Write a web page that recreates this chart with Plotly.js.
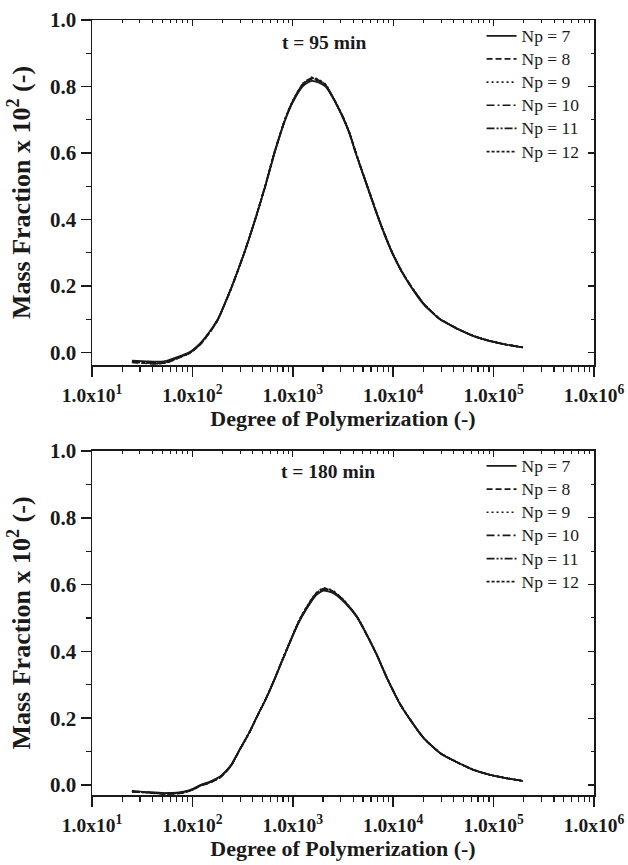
<!DOCTYPE html>
<html><head><meta charset="utf-8">
<script src="https://cdn.plot.ly/plotly-3.0.1.min.js"></script>
<style>html,body{margin:0;padding:0;background:#fff}#chart{width:628px;height:865px}</style>
</head><body><div id="chart"></div>
<script>
const seriesNames = ['Np = 7', 'Np = 8', 'Np = 9', 'Np = 10', 'Np = 11', 'Np = 12'];
const seriesDash = ['solid', '6px,3px', '2px,3px', '8px,3px,2px,3px', '8px,2px,2px,2px,2px,2px', '3px,2px'];

// t = 95 min
const dp95 = [25, 35, 44, 55, 65, 80, 95, 120, 145, 179, 210, 248, 329, 423, 533, 659, 843, 1000, 1254, 1400, 1552, 1800, 2109, 2600, 3213, 3700, 4198, 4800, 5486, 6250, 7163, 8300, 9720, 12000, 14820, 20000, 29040, 36000, 43150, 63400, 92900, 136100, 196000];
const mf95_np7  = [-0.025, -0.027, -0.028, -0.025, -0.018, -0.008, 0.002, 0.028, 0.058, 0.100, 0.147, 0.200, 0.300, 0.400, 0.500, 0.600, 0.700, 0.752, 0.800, 0.811, 0.817, 0.812, 0.800, 0.757, 0.700, 0.655, 0.602, 0.551, 0.500, 0.451, 0.400, 0.350, 0.300, 0.245, 0.200, 0.145, 0.100, 0.084, 0.071, 0.049, 0.034, 0.023, 0.015];
const mf95_np8  = [-0.030, -0.033, -0.034, -0.031, -0.023, -0.012, -0.002, 0.024, 0.055, 0.097, 0.145, 0.198, 0.299, 0.401, 0.502, 0.603, 0.703, 0.756, 0.805, 0.816, 0.822, 0.817, 0.804, 0.759, 0.703, 0.657, 0.605, 0.553, 0.503, 0.453, 0.403, 0.352, 0.302, 0.247, 0.202, 0.147, 0.101, 0.085, 0.072, 0.049, 0.034, 0.023, 0.015];
const mf95_np9  = [-0.028, -0.031, -0.033, -0.030, -0.022, -0.011, -0.001, 0.025, 0.056, 0.098, 0.146, 0.199, 0.300, 0.401, 0.503, 0.604, 0.705, 0.758, 0.808, 0.820, 0.828, 0.821, 0.807, 0.760, 0.704, 0.658, 0.606, 0.554, 0.504, 0.454, 0.404, 0.353, 0.303, 0.248, 0.203, 0.148, 0.101, 0.085, 0.072, 0.050, 0.034, 0.023, 0.015];
const mf95_np10 = [-0.027, -0.030, -0.032, -0.029, -0.021, -0.010, 0.000, 0.026, 0.057, 0.099, 0.146, 0.199, 0.300, 0.400, 0.501, 0.602, 0.703, 0.755, 0.806, 0.818, 0.824, 0.818, 0.805, 0.758, 0.702, 0.656, 0.604, 0.552, 0.502, 0.452, 0.402, 0.351, 0.301, 0.246, 0.201, 0.147, 0.100, 0.084, 0.071, 0.049, 0.034, 0.023, 0.015];
const mf95_np11 = [-0.029, -0.032, -0.034, -0.031, -0.022, -0.011, -0.001, 0.025, 0.056, 0.098, 0.146, 0.199, 0.301, 0.402, 0.503, 0.604, 0.704, 0.757, 0.807, 0.819, 0.826, 0.820, 0.806, 0.759, 0.704, 0.657, 0.606, 0.553, 0.503, 0.453, 0.403, 0.352, 0.302, 0.247, 0.202, 0.148, 0.101, 0.085, 0.072, 0.049, 0.034, 0.023, 0.015];
const mf95_np12 = [-0.028, -0.031, -0.033, -0.030, -0.022, -0.011, -0.001, 0.025, 0.056, 0.098, 0.146, 0.199, 0.300, 0.401, 0.502, 0.603, 0.704, 0.757, 0.807, 0.818, 0.825, 0.819, 0.806, 0.759, 0.703, 0.657, 0.605, 0.553, 0.503, 0.453, 0.403, 0.352, 0.302, 0.247, 0.202, 0.147, 0.101, 0.085, 0.072, 0.049, 0.034, 0.023, 0.015];

// t = 180 min
const dp180 = [25, 35, 52, 70, 82, 100, 120, 150, 190, 240, 300, 370, 440, 540, 644, 780, 944, 1150, 1384, 1700, 2028, 2500, 3213, 4355, 5486, 6905, 8675, 11780, 15990, 20100, 29450, 43150, 63370, 92900, 136100, 196300];
const mf180_np7  = [-0.018, -0.021, -0.024, -0.023, -0.020, -0.012, 0.000, 0.010, 0.026, 0.058, 0.110, 0.158, 0.205, 0.258, 0.309, 0.370, 0.429, 0.487, 0.529, 0.568, 0.582, 0.575, 0.549, 0.502, 0.447, 0.387, 0.319, 0.240, 0.180, 0.140, 0.095, 0.068, 0.045, 0.030, 0.020, 0.012];
const mf180_np8  = [-0.020, -0.023, -0.027, -0.026, -0.023, -0.015, -0.003, 0.007, 0.023, 0.055, 0.108, 0.157, 0.204, 0.258, 0.310, 0.371, 0.431, 0.490, 0.533, 0.572, 0.586, 0.579, 0.552, 0.504, 0.449, 0.388, 0.320, 0.241, 0.181, 0.141, 0.095, 0.068, 0.045, 0.030, 0.020, 0.012];
const mf180_np9  = [-0.019, -0.022, -0.026, -0.025, -0.022, -0.014, -0.002, 0.008, 0.024, 0.056, 0.109, 0.158, 0.205, 0.259, 0.311, 0.372, 0.432, 0.492, 0.535, 0.575, 0.590, 0.582, 0.554, 0.505, 0.450, 0.389, 0.321, 0.242, 0.181, 0.141, 0.096, 0.069, 0.046, 0.030, 0.020, 0.012];
const mf180_np10 = [-0.019, -0.022, -0.025, -0.024, -0.021, -0.013, -0.001, 0.009, 0.025, 0.057, 0.109, 0.157, 0.205, 0.258, 0.310, 0.371, 0.430, 0.489, 0.531, 0.571, 0.585, 0.578, 0.551, 0.503, 0.448, 0.388, 0.320, 0.240, 0.180, 0.140, 0.095, 0.068, 0.045, 0.030, 0.020, 0.012];
const mf180_np11 = [-0.020, -0.023, -0.026, -0.025, -0.022, -0.014, -0.002, 0.008, 0.024, 0.056, 0.109, 0.158, 0.205, 0.259, 0.311, 0.372, 0.431, 0.491, 0.534, 0.573, 0.588, 0.580, 0.553, 0.504, 0.449, 0.389, 0.321, 0.241, 0.181, 0.141, 0.095, 0.068, 0.045, 0.030, 0.020, 0.012];
const mf180_np12 = [-0.019, -0.022, -0.026, -0.025, -0.022, -0.014, -0.002, 0.008, 0.024, 0.056, 0.109, 0.157, 0.205, 0.258, 0.310, 0.371, 0.431, 0.490, 0.533, 0.572, 0.587, 0.580, 0.553, 0.504, 0.449, 0.388, 0.320, 0.241, 0.181, 0.141, 0.095, 0.068, 0.045, 0.030, 0.020, 0.012];

const xTickVals = [10, 100, 1000, 10000, 100000, 1000000];
const xTickText = ['1.0x10<sup>1</sup>', '1.0x10<sup>2</sup>', '1.0x10<sup>3</sup>', '1.0x10<sup>4</sup>', '1.0x10<sup>5</sup>', '1.0x10<sup>6</sup>'];
const panelTitles = ['t = 95 min', 't = 180 min'];
const xTitle = 'Degree of Polymerization (-)';
const yTitle = 'Mass Fraction x 10<sup>2</sup> (-)';

const xMinorVals = [];
for (let d = 10; d < 1000000; d *= 10) { for (let k = 2; k <= 9; k++) xMinorVals.push(d * k); }

const FONT = 'Liberation Serif, Times New Roman, serif';
const INK = '#1a1a1a';

const panel95 = [mf95_np7, mf95_np8, mf95_np9, mf95_np10, mf95_np11, mf95_np12];
const panel180 = [mf180_np7, mf180_np8, mf180_np9, mf180_np10, mf180_np11, mf180_np12];
const legendLabel = s => '<span style="font-size:17.5px">' + s + '</span>';

const traces = [];
panel95.forEach((ys, i) => traces.push({
  x: dp95, y: ys, type: 'scatter', mode: 'lines', name: legendLabel(seriesNames[i]),
  xaxis: 'x', yaxis: 'y', legend: 'legend',
  line: {color: INK, width: 1.7, dash: seriesDash[i], shape: 'spline', smoothing: 0.6}, hoverinfo: 'skip'
}));
panel180.forEach((ys, i) => traces.push({
  x: dp180, y: ys, type: 'scatter', mode: 'lines', name: legendLabel(seriesNames[i]),
  xaxis: 'x2', yaxis: 'y2', legend: 'legend2',
  line: {color: INK, width: 1.7, dash: seriesDash[i], shape: 'spline', smoothing: 0.6}, hoverinfo: 'skip'
}));
// empty traces to activate the mirrored (top/right) frame axes
[['x3','y'],['x','y3'],['x4','y2'],['x2','y4']].forEach(p => traces.push({
  x: [], y: [], type: 'scatter', mode: 'lines', xaxis: p[0], yaxis: p[1], showlegend: false, hoverinfo: 'skip'
}));

function xAxisMain(anchor) {
  return {
    type: 'log', range: [1, 6], domain: [0, 1], anchor: anchor,
    tickmode: 'array', tickvals: xTickVals, ticktext: xTickText,
    ticks: 'outside', ticklen: 10, tickwidth: 1.5, tickcolor: INK,
    showline: true, linewidth: 1.5, linecolor: INK, showgrid: false, zeroline: false,
    tickfont: {family: FONT, size: 19.5, color: INK, weight: 'bold'},
    ticklabelstandoff: 2,
    minor: {tickmode: 'array', tickvals: xMinorVals, ticks: 'outside', ticklen: 5, tickwidth: 1.2, tickcolor: INK, showgrid: false},
    title: {text: xTitle, font: {family: FONT, size: 22, color: INK, weight: 'bold'}, standoff: 2},
    automargin: false
  };
}
function xAxisMirror(over, anchor) {
  return {
    type: 'log', range: [1, 6], overlaying: over, anchor: anchor, side: 'top',
    tickmode: 'array', tickvals: xTickVals, showticklabels: false,
    ticks: 'inside', ticklen: 6, tickwidth: 1.2, tickcolor: INK,
    showline: true, linewidth: 1.5, linecolor: INK, showgrid: false, zeroline: false,
    minor: {tickmode: 'array', tickvals: xMinorVals, ticks: 'inside', ticklen: 3, tickwidth: 1, tickcolor: INK, showgrid: false},
    automargin: false
  };
}
function yAxisMain(anchor, domain, range) {
  return {
    domain: domain, anchor: anchor, range: range,
    tickmode: 'linear', tick0: 0, dtick: 0.2, tickformat: '.1f',
    ticks: 'outside', ticklen: 10, tickwidth: 1.5, tickcolor: INK,
    showline: true, linewidth: 1.5, linecolor: INK, showgrid: false, zeroline: false,
    tickfont: {family: FONT, size: 21, color: INK, weight: 'bold'},
    minor: {dtick: 0.1, tick0: 0, ticks: 'outside', ticklen: 5, tickwidth: 1.2, tickcolor: INK, showgrid: false},
    title: {text: yTitle, font: {family: FONT, size: 26, color: INK, weight: 'bold'}, standoff: 12},
    automargin: false
  };
}
function yAxisMirror(over, anchor, range) {
  return {
    overlaying: over, anchor: anchor, side: 'right', range: range,
    tickmode: 'linear', tick0: 0, dtick: 0.2, showticklabels: false,
    ticks: 'inside', ticklen: 6, tickwidth: 1.2, tickcolor: INK,
    showline: true, linewidth: 1.5, linecolor: INK, showgrid: false, zeroline: false,
    minor: {dtick: 0.1, tick0: 0, ticks: 'inside', ticklen: 3, tickwidth: 1, tickcolor: INK, showgrid: false},
    automargin: false
  };
}

const rangeTop = [-0.038, 1.0];
const rangeBot = [-0.03, 1.0];
const legendStyle = {
  xanchor: 'left', yanchor: 'top', bgcolor: 'rgba(0,0,0,0)', borderwidth: 0,
  font: {family: FONT, size: 15.5, color: INK}, tracegroupgap: 0
};

const layout = {
  width: 628, height: 865,
  margin: {l: 92, r: 34, t: 20, b: 70},
  paper_bgcolor: '#fff', plot_bgcolor: '#fff',
  showlegend: true,
  xaxis: xAxisMain('y'),
  xaxis2: xAxisMain('y2'),
  xaxis3: xAxisMirror('x', 'y'),
  xaxis4: xAxisMirror('x2', 'y2'),
  yaxis: yAxisMain('x', [0.5548, 1], rangeTop),
  yaxis2: yAxisMain('x2', [0, 0.4439], rangeBot),
  yaxis3: yAxisMirror('y', 'x', rangeTop),
  yaxis4: yAxisMirror('y2', 'x2', rangeBot),
  legend: Object.assign({x: 0.776, y: 1.001}, legendStyle),
  legend2: Object.assign({x: 0.776, y: 0.446}, legendStyle),
  annotations: [
    {text: panelTitles[0], xref: 'paper', yref: 'paper', x: 0.462, y: 0.987, showarrow: false,
     font: {family: FONT, size: 19.5, color: INK, weight: 'bold'}},
    {text: panelTitles[1], xref: 'paper', yref: 'paper', x: 0.470, y: 0.418, showarrow: false,
     font: {family: FONT, size: 19.5, color: INK, weight: 'bold'}}
  ]
};

Plotly.newPlot('chart', traces, layout, {staticPlot: true, displayModeBar: false});
</script>
</body></html>
